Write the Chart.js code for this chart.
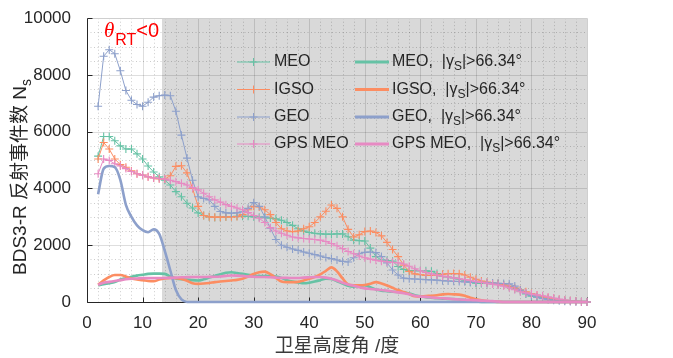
<!DOCTYPE html>
<html>
<head>
<meta charset="utf-8">
<script src="https://cdn.jsdelivr.net/npm/chart.js@4.4.0/dist/chart.umd.min.js"></script>
<style>
  html, body { margin: 0; padding: 0; background: #fff; }
  #wrap { width: 673px; height: 358px; }
</style>
</head>
<body>
<div id="wrap"><canvas id="chart" width="673" height="358"></canvas></div>
<script>
// elevation angle, degrees
const elevation = [
  2, 3, 4, 5, 6, 7, 8, 9, 10, 11,
  12, 13, 14, 15, 16, 17, 18, 19, 20, 21,
  22, 23, 24, 25, 26, 27, 28, 29, 30, 31,
  32, 33, 34, 35, 36, 37, 38, 39, 40, 41,
  42, 43, 44, 45, 46, 47, 48, 49, 50, 51,
  52, 53, 54, 55, 56, 57, 58, 59, 60, 61,
  62, 63, 64, 65, 66, 67, 68, 69, 70, 71,
  72, 73, 74, 75, 76, 77, 78, 79, 80, 81,
  82, 83, 84, 85, 86, 87, 88, 89, 90
];

// reflection event counts, all events
const meo = [
  5140, 5830, 5830, 5680, 5500, 5390, 5390, 5220, 5040, 4790,
  4580, 4410, 4290, 4120, 3890, 3710, 3480, 3310, 3140, 3050,
  3000, 2980, 2990, 3000, 3010, 3020, 3020, 3020, 3000, 2990,
  2970, 2960, 2930, 2880, 2800, 2700, 2580, 2500, 2450, 2420,
  2400, 2390, 2390, 2400, 2400, 2300, 2180, 2160, 2150, 1900,
  1600, 1480, 1460, 1440, 1250, 1150, 1110, 1100, 1100, 1100,
  1080, 1000, 900, 880, 850, 800, 750, 700, 660, 650,
  650, 640, 640, 600, 540, 460, 380, 280, 200, 170,
  150, 120, 100, 80, 60, 40, 25, 10, 0
];
const igso = [
  5040, 5620, 5390, 5040, 4840, 4750, 4620, 4520, 4470, 4410,
  4370, 4340, 4330, 4450, 4780, 4800, 4550, 4000, 3370, 3050,
  3000, 2990, 2990, 3000, 3000, 3010, 3080, 3250, 3370, 3350,
  3250, 3080, 2800, 2580, 2500, 2480, 2500, 2580, 2650, 2800,
  3000, 3200, 3420, 3300, 3000, 2560, 2290, 2370, 2480, 2500,
  2450, 2330, 2100, 1850, 1600, 1300, 1080, 990, 960, 940,
  935, 950, 980, 995, 1000, 995, 950, 870, 800, 740,
  700, 670, 650, 610, 560, 500, 430, 360, 300, 240,
  190, 150, 120, 90, 60, 40, 25, 10, 0
];
const geo = [
  6900, 8660, 8890, 8750, 8150, 7450, 7110, 6960, 6900, 7040,
  7220, 7270, 7290, 7270, 6720, 5880, 5070, 4290, 3710, 3650,
  3600, 3370, 3190, 3140, 3130, 3140, 3180, 3300, 3500, 3370,
  3000, 2600, 2200, 2000, 1930, 1870, 1820, 1760, 1720, 1670,
  1620, 1570, 1530, 1480, 1430, 1410, 1560, 1700, 1750, 1760,
  1740, 1600, 1380, 1130, 950, 840, 820, 810, 800, 790,
  780, 770, 750, 740, 730, 720, 710, 700, 700, 690,
  680, 670, 660, 650, 640, 560, 420, 300, 230, 180,
  120, 80, 60, 40, 30, 20, 10, 5, 0
];
const gpsMeo = [
  4520, 5040, 4990, 4870, 4790, 4700, 4600, 4520, 4470, 4410,
  4370, 4350, 4330, 4290, 4240, 4180, 4120, 4030, 3950, 3830,
  3710, 3600, 3520, 3430, 3370, 3310, 3250, 3150, 3050, 2950,
  2800, 2620, 2500, 2420, 2350, 2290, 2260, 2240, 2220, 2200,
  2180, 2130, 2060, 1980, 1880, 1780, 1700, 1620, 1560, 1510,
  1470, 1440, 1420, 1400, 1380, 1340, 1260, 1170, 1100, 1040,
  990, 950, 910, 880, 850, 820, 790, 760, 720, 690,
  660, 630, 600, 560, 500, 430, 360, 320, 280, 250,
  220, 180, 140, 100, 70, 45, 25, 10, 0
];

// events with |gamma_S| > 66.34 deg
const meoHigh = [
  590, 630, 660, 700, 790, 840, 890, 930, 960, 990,
  1000, 1000, 990, 900, 830, 800, 790, 770, 760, 800,
  860, 920, 980, 1030, 1050, 1020, 990, 960, 930, 910,
  910, 910, 900, 850, 770, 720, 690, 660, 680, 720,
  770, 820, 810, 730, 650, 570, 540, 570, 590, 520,
  440, 400, 380, 360, 350, 340, 300, 240, 200, 170,
  150, 130, 120, 110, 100, 90, 70, 50, 20, 5,
  0, 0, 0, 0, 0, 0, 0, 0, 0, 0,
  0, 0, 0, 0, 0, 0, 0, 0, 0
];
const igsoHigh = [
  610, 760, 880, 950, 950, 900, 830, 790, 770, 740,
  730, 790, 830, 850, 840, 810, 750, 660, 640, 650,
  670, 700, 720, 740, 760, 780, 820, 900, 990, 1050,
  1070, 980, 850, 720, 700, 700, 710, 760, 820, 880,
  970, 1100, 1220, 1080, 830, 620, 590, 590, 600, 640,
  700, 650, 580, 500, 420, 350, 280, 200, 190, 210,
  220, 240, 270, 280, 270, 260, 220, 150, 100, 60,
  30, 20, 5, 0, 0, 0, 0, 0, 0, 0,
  0, 0, 0, 0, 0, 0, 0, 0, 0
];
const geoHigh = [
  3800, 4700, 4790, 4750, 4300, 3420, 3000, 2700, 2530, 2460,
  2560, 2400, 1800, 1110, 420, 90, 0, 0, 0, 0,
  0, 0, 0, 0, 0, 0, 0, 0, 0, 0,
  0, 0, 0, 0, 0, 0, 0, 0, 0, 0,
  0, 0, 0, 0, 0, 0, 0, 0, 0, 0,
  0, 0, 0, 0, 0, 0, 0, 0, 0, 0,
  0, 0, 0, 0, 0, 0, 0, 0, 0, 0,
  0, 0, 0, 0, 0, 0, 0, 0, 0, 0,
  0, 0, 0, 0, 0, 0, 0, 0, 0
];
const gpsMeoHigh = [
  610, 680, 710, 740, 770, 800, 820, 830, 840, 840,
  840, 845, 845, 850, 860, 870, 875, 880, 880, 880,
  885, 890, 900, 920, 935, 930, 920, 900, 890, 880,
  880, 870, 860, 850, 850, 845, 845, 860, 870, 880,
  880, 860, 820, 760, 680, 620, 570, 520, 480, 460,
  440, 420, 400, 370, 340, 310, 270, 220, 190, 180,
  160, 140, 130, 120, 100, 90, 80, 70, 60, 50,
  40, 30, 15, 0, 0, 0, 0, 0, 0, 0,
  0, 0, 0, 0, 0, 0, 0, 0, 0
];

const names = ['MEO', 'IGSO', 'GEO', 'GPS MEO'];
const colors = ['#66c2a5', '#fc8d62', '#8da0cb', '#e78ac3'];
const rtLimit = 13.5;   // theta_RT < 0 below this elevation
const xTicks = [0, 10, 20, 30, 40, 50, 60, 70, 80, 90];
const yTicks = [0, 2000, 4000, 6000, 8000, 10000];

const FONT = '"Liberation Sans", Arial, "Noto Sans CJK SC", sans-serif';
const INK = '#262626';

const toPoints = vals => vals.map((v, i) => ({ x: elevation[i], y: v }));

// later series sit on top: lower order is drawn last
const marked = (k, vals) => ({
  label: names[k],
  data: toPoints(vals),
  borderColor: colors[k],
  backgroundColor: colors[k],
  borderWidth: 1,
  pointStyle: 'cross',
  pointRadius: 4,
  pointBorderWidth: 1.1,
  tension: 0,
  clip: false,
  order: 8 - k
});
const smooth = (k, vals) => ({
  label: names[k] + ', |γS|>66.34°',
  data: toPoints(vals),
  borderColor: colors[k],
  backgroundColor: colors[k],
  borderWidth: 2.6,
  pointRadius: 0,
  cubicInterpolationMode: 'monotone',
  clip: false,
  order: 4 - k
});

// shaded region, grid, axis lines and inward ticks
const backdrop = {
  id: 'backdrop',
  beforeDatasetsDraw(chart) {
    const { ctx, chartArea: a, scales: { x, y } } = chart;
    const px = v => Math.round(x.getPixelForValue(v)) + 0.5;
    const py = v => Math.round(y.getPixelForValue(v)) + 0.5;
    ctx.save();
    const sx = x.getPixelForValue(rtLimit);
    ctx.fillStyle = '#d9d9d9';
    ctx.fillRect(sx, a.top, a.right - sx, a.bottom - a.top);

    ctx.lineWidth = 1;
    ctx.strokeStyle = 'rgba(0,0,0,0.2)';
    ctx.setLineDash([1, 2.5]);
    for (let v = 2; v < 90; v += 2) {
      if (v % 10 === 0) continue;
      ctx.beginPath(); ctx.moveTo(px(v), a.top); ctx.lineTo(px(v), a.bottom); ctx.stroke();
    }
    for (let v = 500; v < 10000; v += 500) {
      if (v % 2000 === 0) continue;
      ctx.beginPath(); ctx.moveTo(a.left, py(v)); ctx.lineTo(a.right, py(v)); ctx.stroke();
    }
    ctx.setLineDash([]);
    ctx.strokeStyle = 'rgba(0,0,0,0.13)';
    xTicks.slice(1, -1).forEach(v => {
      ctx.beginPath(); ctx.moveTo(px(v), a.top); ctx.lineTo(px(v), a.bottom); ctx.stroke();
    });
    yTicks.slice(1, -1).forEach(v => {
      ctx.beginPath(); ctx.moveTo(a.left, py(v)); ctx.lineTo(a.right, py(v)); ctx.stroke();
    });

    // light box on top and right
    ctx.strokeStyle = '#cfcfcf';
    ctx.beginPath();
    ctx.moveTo(px(0), py(10000)); ctx.lineTo(px(90), py(10000)); ctx.lineTo(px(90), py(0));
    ctx.stroke();

    // dark axes with inward ticks
    ctx.strokeStyle = INK;
    ctx.beginPath();
    ctx.moveTo(px(0), py(10000)); ctx.lineTo(px(0), py(0)); ctx.lineTo(px(90), py(0));
    xTicks.forEach(v => { ctx.moveTo(px(v), py(0)); ctx.lineTo(px(v), py(0) - 5); });
    yTicks.forEach(v => { ctx.moveTo(px(0), py(v)); ctx.lineTo(px(0) + 5, py(v)); });
    ctx.stroke();
    ctx.restore();
  }
};

// draws "main" then a lowered subscript, returns the new x
function withSub(ctx, x, y, main, sub, size, subSize, drop) {
  ctx.font = `${size}px ${FONT}`;
  ctx.fillText(main, x, y);
  x += ctx.measureText(main).width;
  ctx.font = `${subSize}px ${FONT}`;
  ctx.fillText(sub, x, y + drop);
  return x + ctx.measureText(sub).width;
}

const annotations = {
  id: 'annotations',
  afterDraw(chart) {
    const { ctx } = chart;
    ctx.save();

    // legend, two columns
    ctx.textBaseline = 'middle';
    ctx.textAlign = 'left';
    const rows = [62, 89.5, 117, 144];
    names.forEach((name, k) => {
      const yy = rows[k];
      ctx.strokeStyle = colors[k];
      ctx.lineWidth = 1;
      ctx.beginPath();
      ctx.moveTo(237, yy); ctx.lineTo(270, yy);
      ctx.moveTo(253.5, yy - 4); ctx.lineTo(253.5, yy + 4);
      ctx.moveTo(249.5, yy); ctx.lineTo(257.5, yy);
      ctx.stroke();
      ctx.fillStyle = INK;
      ctx.font = `16px ${FONT}`;
      ctx.fillText(name, 274, yy);

      ctx.lineWidth = 3;
      ctx.beginPath(); ctx.moveTo(355, yy); ctx.lineTo(389, yy); ctx.stroke();
      let tx = withSub(ctx, 392, yy, name + ',  |γ', 'S', 16, 12, 5);
      ctx.font = `16px ${FONT}`;
      ctx.fillText('|>66.34°', tx, yy);
    });

    // theta_RT < 0 note
    ctx.textBaseline = 'alphabetic';
    ctx.fillStyle = '#ff0000';
    ctx.font = `italic 21px "Liberation Serif", serif`;
    ctx.fillText('θ', 104, 37);
    let tx = 104 + ctx.measureText('θ').width + 1;
    ctx.font = `16px ${FONT}`;
    ctx.fillText('RT', tx, 45);
    tx += ctx.measureText('RT').width;
    ctx.font = `20px ${FONT}`;
    ctx.fillText('<0', tx, 37);

    // y axis title with subscript
    ctx.fillStyle = INK;
    ctx.translate(21, 177);
    ctx.rotate(-Math.PI / 2);
    ctx.textBaseline = 'middle';
    ctx.font = `19px ${FONT}`;
    const main = 'BDS3-R 反射事件数 N';
    const w = ctx.measureText(main).width;
    ctx.font = `14px ${FONT}`;
    const ws = ctx.measureText('s').width;
    withSub(ctx, -(w + ws) / 2, 0, main, 's', 19, 14, 6);
    ctx.restore();
  }
};

new Chart(document.getElementById('chart'), {
  type: 'line',
  data: {
    datasets: [
      marked(0, meo), marked(1, igso), marked(2, geo), marked(3, gpsMeo),
      smooth(0, meoHigh), smooth(1, igsoHigh), smooth(2, geoHigh), smooth(3, gpsMeoHigh)
    ]
  },
  options: {
    responsive: false,
    animation: false,
    devicePixelRatio: 1,
    layout: { padding: { left: 0, right: 86, top: 13, bottom: 0 } },
    plugins: { legend: { display: false }, tooltip: { enabled: false } },
    scales: {
      x: {
        type: 'linear',
        min: 0,
        max: 90,
        afterFit: s => { s.height = 56; },
        afterBuildTicks: s => { s.ticks = xTicks.map(v => ({ value: v })); },
        grid: { display: false },
        border: { display: false },
        ticks: { color: INK, font: { size: 17, family: FONT }, padding: 3, maxRotation: 0, autoSkip: false },
        title: {
          display: true,
          text: '卫星高度角 /度',
          color: '#3a3a3a',
          font: { size: 19, family: FONT },
          padding: { top: 0, bottom: 0 }
        }
      },
      y: {
        type: 'linear',
        min: 0,
        max: 10000,
        afterFit: s => { s.width = 87; },
        afterBuildTicks: s => { s.ticks = yTicks.map(v => ({ value: v })); },
        grid: { display: false },
        border: { display: false },
        ticks: { color: INK, font: { size: 17, family: FONT }, padding: 8, callback: v => String(v) }
      }
    }
  },
  plugins: [backdrop, annotations]
});
</script>
</body>
</html>
